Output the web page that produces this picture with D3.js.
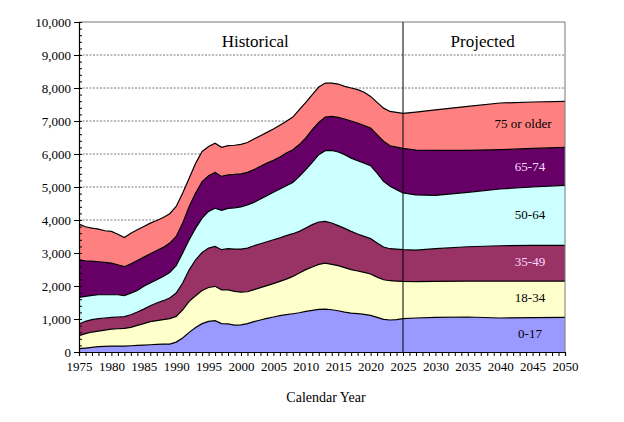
<!DOCTYPE html>
<html>
<head>
<meta charset="utf-8">
<script src="https://cdn.jsdelivr.net/npm/d3@7"></script>
<style>
  body { margin: 0; background: #fff; }
</style>
</head>
<body>
<div id="chart"></div>
<script>
const width = 624;
const height = 422;
const serif = "'Liberation Serif', 'Times New Roman', Times, 'DejaVu Serif', serif";

// calendar years (annual history, sparser projection)
const years = [
  1975, 1976, 1977, 1978, 1979, 1980, 1981, 1982, 1983, 1984,
  1985, 1986, 1987, 1988, 1989, 1990, 1991, 1992, 1993, 1994,
  1995, 1996, 1997, 1998, 1999, 2000, 2001, 2002, 2003, 2004,
  2005, 2006, 2007, 2008, 2009, 2010, 2011, 2012, 2013, 2014,
  2015, 2016, 2017, 2018, 2019, 2020, 2021, 2022, 2023, 2024,
  2025, 2027, 2030, 2035, 2040, 2045, 2050
];

const age0to17 = [
  100, 120, 140, 160, 170, 180, 180, 180, 190, 200,
  210, 220, 230, 240, 240, 300, 425, 595, 745, 860,
  930, 950, 860, 850, 815, 820, 860, 920, 970, 1020,
  1060, 1100, 1130, 1160, 1190, 1230, 1260, 1290, 1300, 1280,
  1250, 1210, 1180, 1160, 1140, 1110, 1050, 990, 970, 980,
  1010, 1030, 1050, 1060, 1030, 1040, 1050
];
const age18to34 = [
  395, 435, 465, 475, 495, 515, 525, 535, 555, 605,
  650, 700, 720, 740, 770, 780, 855, 940, 960, 1005,
  1025, 1040, 1025, 1035, 1020, 995, 965, 970, 980, 990,
  1010, 1040, 1080, 1130, 1205, 1265, 1315, 1365, 1395, 1375,
  1365, 1345, 1315, 1295, 1275, 1255, 1220, 1200, 1190, 1170,
  1130, 1100, 1090, 1090, 1120, 1110, 1100
];
const age35to49 = [
  355, 375, 375, 375, 365, 355, 355, 355, 385, 405,
  440, 480, 535, 575, 625, 705, 810, 955, 1090, 1150,
  1195, 1210, 1215, 1245, 1285, 1305, 1325, 1330, 1330, 1330,
  1330, 1320, 1315, 1295, 1260, 1260, 1285, 1285, 1265, 1255,
  1215, 1190, 1160, 1120, 1090, 1070, 1030, 990, 970, 970,
  960, 960, 990, 1040, 1070, 1080, 1080
];
const age50to64 = [
  805, 755, 735, 725, 705, 685, 675, 635, 655, 655,
  690, 690, 705, 735, 775, 830, 910, 910, 960, 1040,
  1110, 1160, 1190, 1220, 1250, 1280, 1305, 1315, 1355, 1395,
  1440, 1480, 1515, 1555, 1665, 1770, 1885, 2040, 2140, 2200,
  2230, 2235, 2220, 2220, 2220, 2210, 2120, 1990, 1890, 1800,
  1720, 1670, 1615, 1650, 1720, 1770, 1820
];
const age65to74 = [
  1130, 1080, 1040, 1000, 980, 960, 910, 880, 890, 910,
  885, 885, 885, 880, 890, 885, 905, 1010, 1060, 1110,
  1080, 1080, 1030, 1020, 1010, 1000, 990, 990, 990, 990,
  970, 970, 990, 990, 965, 960, 990, 980, 1020, 1030,
  1050, 1080, 1125, 1145, 1140, 1140, 1165, 1215, 1230, 1290,
  1350, 1360, 1365, 1270, 1190, 1170, 1150
];
const age75plus = [
  1090, 1030, 1000, 990, 960, 960, 925, 885, 925, 930,
  930, 930, 910, 905, 890, 910, 910, 855, 905, 910,
  885, 885, 885, 885, 885, 890, 905, 930, 930, 930,
  945, 960, 960, 990, 1060, 1080, 1065, 1070, 1030, 1010,
  1010, 990, 1000, 1010, 1005, 960, 980, 1005, 1040, 1050,
  1060, 1150, 1230, 1335, 1415, 1405, 1395
];

const groups = ["0-17", "18-34", "35-49", "50-64", "65-74", "75 or older"];
const groupValues = [age0to17, age18to34, age35to49, age50to64, age65to74, age75plus];
const groupColors = ["#9999ff", "#ffffcc", "#993366", "#ccffff", "#660066", "#ff8080"];
const labelColors = ["#000", "#000", "#ffd9ff", "#000", "#ffd9ff", "#000"];
const labelYear = 2044.6;

const yTicks = [0, 1000, 2000, 3000, 4000, 5000, 6000, 7000, 8000, 9000, 10000];
const xTicks = [1975, 1980, 1985, 1990, 1995, 2000, 2005, 2010, 2015, 2020, 2025, 2030, 2035, 2040, 2045, 2050];
const splitYear = 2025;

const rows = years.map((yr, i) => {
  const r = { year: yr };
  groups.forEach((g, k) => { r[g] = groupValues[k][i]; });
  return r;
});

const margin = { left: 79, right: 59, top: 22, bottom: 70 };
const plotW = width - margin.left - margin.right;
const plotH = height - margin.top - margin.bottom;

const svg = d3.select("#chart")
  .append("svg")
  .attr("width", width)
  .attr("height", height)
  .style("font-family", serif);

const g = svg.append("g")
  .attr("transform", `translate(${margin.left},${margin.top})`);

const x = d3.scaleLinear().domain([1975, 2050]).range([0, plotW]);
const y = d3.scaleLinear().domain([0, 10000]).range([plotH, 0]);

// gridlines
g.selectAll(".grid")
  .data(yTicks.filter(t => t > 0 && t < 10000))
  .enter()
  .append("line")
  .attr("x1", 0)
  .attr("x2", plotW)
  .attr("y1", d => y(d))
  .attr("y2", d => y(d))
  .attr("stroke", "#555")
  .attr("stroke-width", 0.8)
  .attr("stroke-dasharray", "2,1.5");

const stack = d3.stack().keys(groups);
const series = stack(rows);

const area = d3.area()
  .x(d => x(d.data.year))
  .y0(d => y(d[0]))
  .y1(d => y(d[1]));

const line = d3.line()
  .x(d => x(d.data.year))
  .y(d => y(d[1]));

g.selectAll(".layer")
  .data(series)
  .enter()
  .append("path")
  .attr("d", area)
  .attr("fill", (d, i) => groupColors[i]);

g.selectAll(".edge")
  .data(series)
  .enter()
  .append("path")
  .attr("d", line)
  .attr("fill", "none")
  .attr("stroke", "#000")
  .attr("stroke-width", 1.2);

// frame: top and right
g.append("line")
  .attr("x1", 0).attr("x2", plotW)
  .attr("y1", 0).attr("y2", 0)
  .attr("stroke", "#777").attr("stroke-width", 1);
g.append("line")
  .attr("x1", plotW).attr("x2", plotW)
  .attr("y1", 0).attr("y2", plotH)
  .attr("stroke", "#777").attr("stroke-width", 1);

// historical / projected divider
g.append("line")
  .attr("x1", x(splitYear)).attr("x2", x(splitYear))
  .attr("y1", 0).attr("y2", plotH)
  .attr("stroke", "#000").attr("stroke-width", 1);

g.append("text")
  .attr("x", x(2002.2))
  .attr("y", 25)
  .attr("text-anchor", "middle")
  .attr("font-size", 17)
  .style("font-family", serif)
  .text("Historical");

g.append("text")
  .attr("x", x(2037.3))
  .attr("y", 25)
  .attr("text-anchor", "middle")
  .attr("font-size", 17)
  .style("font-family", serif)
  .text("Projected");

// band labels
const li = years.indexOf(2045);
series.forEach((s, i) => {
  const d = s[li];
  g.append("text")
    .attr("x", x(labelYear) + (i === 5 ? -7 : 0))
    .attr("y", y((d[0] + d[1]) / 2) + 3)
    .attr("text-anchor", "middle")
    .attr("font-size", 13)
    .attr("fill", labelColors[i])
    .style("font-family", serif)
    .text(groups[i]);
});

// y axis
const yAxis = g.append("g")
  .call(d3.axisLeft(y)
    .tickValues(yTicks)
    .tickFormat(d3.format(","))
    .tickSize(5)
    .tickPadding(3));
yAxis.select(".domain").attr("stroke", "#000").attr("stroke-width", 1.2);
yAxis.selectAll("text")
  .attr("font-size", 13)
  .attr("dy", "0.36em")
  .attr("fill", "#000")
  .style("font-family", serif);

// y minor ticks (inside)
g.append("g")
  .call(d3.axisRight(y)
    .tickValues(d3.range(0, 10001, 200))
    .tickSize(3)
    .tickFormat(""))
  .call(a => a.select(".domain").remove());

// x axis with yearly ticks
const xAxis = g.append("g")
  .attr("transform", `translate(0,${plotH})`)
  .call(d3.axisBottom(x)
    .tickValues(d3.range(1975, 2051, 1))
    .tickSize(4)
    .tickPadding(6)
    .tickFormat(d => xTicks.includes(d) ? d : ""));
xAxis.select(".domain").attr("stroke", "#000").attr("stroke-width", 1.2);
xAxis.selectAll("text")
  .attr("font-size", 13)
  .attr("fill", "#000")
  .style("font-family", serif);

svg.append("text")
  .attr("x", 326)
  .attr("y", 402)
  .attr("text-anchor", "middle")
  .attr("font-size", 14)
  .style("font-family", serif)
  .text("Calendar Year");
</script>
</body>
</html>
